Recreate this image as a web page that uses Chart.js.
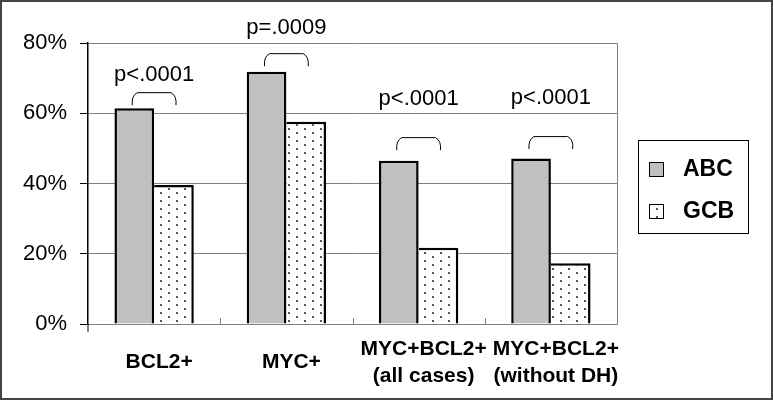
<!DOCTYPE html>
<html>
<head>
<meta charset="utf-8">
<script src="https://cdn.jsdelivr.net/npm/chart.js@4.4.1/dist/chart.umd.min.js"></script>
<style>
  html, body { margin: 0; padding: 0; background: #fff; }
  #grafica { display: block; }
</style>
</head>
<body>
<canvas id="grafica" width="773" height="401"></canvas>
<script>
const categorias = ['BCL2+', 'MYC+', ['MYC+BCL2+', '(all cases)'], ['MYC+BCL2+', '(without DH)']];
const abc = [61.4, 71.8, 46.5, 47.1];
const gcb = [39.6, 57.6, 21.7, 17.3];
const pValores = ['p<.0001', 'p=.0009', 'p<.0001', 'p<.0001'];
const llaveAltura = [66.0, 77.1, 53.2, 53.5];   // top of each bracket, in %
const textoAltura = [70.9, 84.3, 64.1, 64.3];   // middle of each p-value, in %
const ticksY = [0, 20, 40, 60, 80];

const fuente = 'Liberation Sans, Arial, sans-serif';
Chart.defaults.font.family = fuente;
Chart.defaults.color = '#000';

const ctx = document.getElementById('grafica').getContext('2d');

// dotted fill for GCB
function patronPuntos() {
  const c = document.createElement('canvas');
  c.width = 16; c.height = 8;
  const g = c.getContext('2d');
  g.fillStyle = '#fff';
  g.fillRect(0, 0, 16, 8);
  g.fillStyle = '#555';
  g.fillRect(0, 0, 2, 2);
  g.fillRect(8, 4, 2, 2);
  return ctx.createPattern(c, 'repeat');
}

function linea(c, x1, y1, x2, y2) {
  c.beginPath();
  c.moveTo(x1, y1);
  c.lineTo(x2, y2);
  c.stroke();
}

const adornos = {
  id: 'adornos',
  afterDatasetsDraw(chart) {
    const { ctx, chartArea, scales: { x, y } } = chart;
    ctx.save();

    // right edge of the plot
    ctx.strokeStyle = '#808080';
    ctx.lineWidth = 1;
    linea(ctx, chartArea.right + 0.5, chartArea.top, chartArea.right + 0.5, chartArea.bottom);

    // small category ticks pointing up
    const paso = x.getPixelForValue(1) - x.getPixelForValue(0);
    for (let i = 1; i <= categorias.length; i++) {
      const px = Math.round(x.getPixelForValue(i) - paso / 2) + 0.5;
      linea(ctx, px, chartArea.bottom, px, chartArea.bottom - 6);
    }
    // y axis runs a little below the x axis
    ctx.strokeStyle = '#000';
    linea(ctx, chartArea.left, chartArea.bottom, chartArea.left, chartArea.bottom + 8);

    // brackets + p-values
    const m0 = chart.getDatasetMeta(0);
    const m1 = chart.getDatasetMeta(1);
    ctx.lineWidth = 1;
    for (let i = 0; i < categorias.length; i++) {
      const x1 = m0.data[i].x - 2;
      const x2 = m1.data[i].x + 2;
      const yt = y.getPixelForValue(llaveAltura[i]) + 0.5;
      const yb = y.getPixelForValue(llaveAltura[i] - 3.7);
      ctx.beginPath();
      ctx.moveTo(x1, yb);
      ctx.quadraticCurveTo(x1 - 1, yt + 3, x1 + 5, yt);
      ctx.lineTo(x2 - 5, yt);
      ctx.quadraticCurveTo(x2 + 1, yt + 3, x2, yb);
      ctx.stroke();

      ctx.fillStyle = '#000';
      ctx.font = '22px ' + fuente;
      ctx.textAlign = 'center';
      ctx.textBaseline = 'middle';
      ctx.fillText(pValores[i], x.getPixelForValue(i), y.getPixelForValue(textoAltura[i]));
    }
    ctx.restore();
  },
  afterDraw(chart) {
    const { ctx, chartArea } = chart;
    ctx.save();

    // legend box
    const lx = chartArea.right + 21, ly = 140;
    ctx.strokeStyle = '#000';
    ctx.lineWidth = 1;
    ctx.strokeRect(lx + 0.5, ly + 0.5, 110, 93);
    chart.data.datasets.forEach((ds, i) => {
      const cy = 169 + i * 42;
      ctx.fillStyle = ds.backgroundColor;
      ctx.fillRect(lx + 11, cy - 7, 14, 14);
      ctx.strokeRect(lx + 11.5, cy - 6.5, 14, 14);
      ctx.fillStyle = '#000';
      ctx.font = 'bold 23px ' + fuente;
      ctx.textAlign = 'left';
      ctx.textBaseline = 'middle';
      ctx.fillText(ds.label, lx + 45, cy + 1);
    });

    // outer frame
    ctx.strokeStyle = '#444';
    ctx.lineWidth = 2;
    ctx.strokeRect(1, 1, 771, 398);
    ctx.restore();
  }
};

const chart = new Chart(ctx, {
  type: 'bar',
  data: {
    labels: categorias,
    datasets: [{
      label: 'ABC',
      data: abc,
      backgroundColor: '#c0c0c0',
      borderColor: '#000',
      borderWidth: 2.5,
      barPercentage: 1,
      categoryPercentage: 0.6
    }, {
      label: 'GCB',
      data: gcb,
      backgroundColor: patronPuntos(),
      borderColor: '#000',
      borderWidth: { top: 2.5, right: 2.5, left: 0, bottom: 0 },
      barPercentage: 1,
      categoryPercentage: 0.6
    }]
  },
  options: {
    responsive: false,
    animation: false,
    layout: { padding: { left: 2, right: 156, top: 43, bottom: 0 } },
    plugins: {
      legend: { display: false },
      tooltip: { enabled: false }
    },
    scales: {
      x: {
        grid: { display: false },
        border: { color: '#808080', width: 1 },
        ticks: {
          font: { size: 21, weight: 'bold', lineHeight: 1.3 },
          color: '#000',
          padding: 17,
          crossAlign: 'center',
          labelOffset: 5,
          maxRotation: 0,
          autoSkip: false
        },
        afterFit: s => { s.height = 77; }
      },
      y: {
        min: 0,
        max: 80,
        afterBuildTicks: s => { s.ticks = ticksY.map(v => ({ value: v })); },
        ticks: {
          callback: v => v + '%',
          font: { size: 22 },
          color: '#000',
          padding: 13
        },
        grid: { color: '#808080', tickColor: '#000', tickLength: 8, lineWidth: 1 },
        border: { color: '#000', width: 1.5 },
        afterFit: s => { s.width = 86; }
      }
    }
  },
  plugins: [adornos]
});
</script>
</body>
</html>
